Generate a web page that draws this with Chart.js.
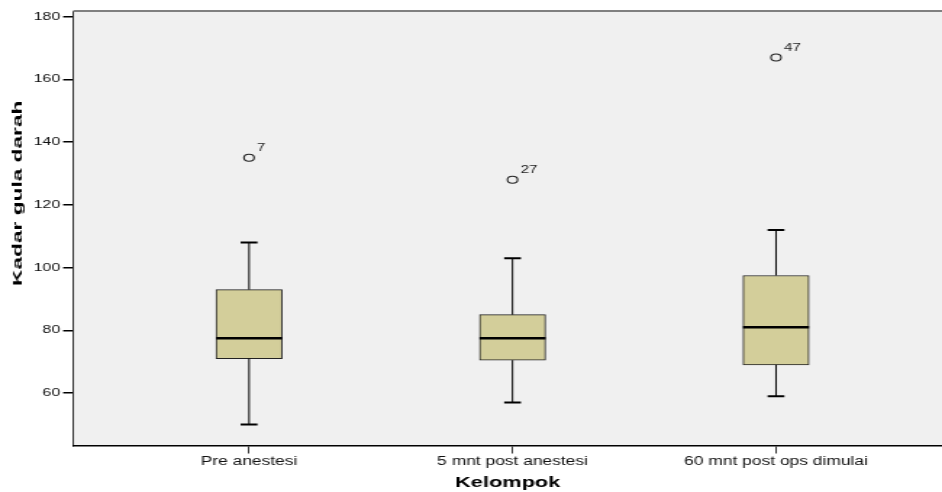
<!DOCTYPE html>
<html>
<head>
<meta charset="utf-8">
<script src="https://cdn.jsdelivr.net/npm/chart.js@4.4.1/dist/chart.umd.min.js"></script>
<style>
  html, body { margin: 0; padding: 0; background: #ffffff; overflow: hidden; }
  #c { display: block; width: 942px !important; height: 492px !important; }
</style>
</head>
<body>
<canvas id="c" width="650" height="492" style="width:942px;height:492px;"></canvas>
<script>
// ---- data ----
const categories    = ['Pre anestesi', '5 mnt post anestesi', '60 mnt post ops dimulai'];
const whiskerMin    = [50, 57, 59];
const q1            = [71, 70.5, 69];
const median        = [77.5, 77.5, 81];
const q3            = [93, 85, 97.5];
const whiskerMax    = [108, 103, 112];
const outlierValues = [135, 128, 167];
const outlierLabels = ['7', '27', '47'];
const yTicks        = [60, 80, 100, 120, 140, 160, 180];
const yTitle = 'Kadar gula darah';
const xTitle = 'Kelompok';

// horizontal stretch of the reference rendering
const S = 942 / 650;
const FONT = '"Liberation Sans", Arial, Helvetica, sans-serif';
Chart.defaults.font.family = FONT;
Chart.defaults.color = '#111';

const boxData = categories.map((c, i) => ({ x: i + 1, y: [q1[i], q3[i]] }));
const outData = categories.map((c, i) => ({ x: i + 1, y: outlierValues[i] }));

const backgroundPlugin = {
  id: 'bg',
  beforeDraw(chart) {
    const { ctx, chartArea: a } = chart;
    ctx.save();
    ctx.fillStyle = '#ffffff';
    ctx.fillRect(0, 0, chart.width, chart.height);
    ctx.fillStyle = '#f0f0f0';
    ctx.fillRect(a.left, a.top, a.right - a.left, a.bottom - a.top);
    ctx.restore();
  },
  afterDraw(chart) {
    const { ctx, chartArea: a } = chart;
    ctx.save();
    ctx.strokeStyle = '#808080';
    ctx.lineWidth = 2;
    ctx.beginPath();
    ctx.moveTo(a.left, a.top);
    ctx.lineTo(a.right, a.top);
    ctx.stroke();
    // rotated y-axis title (stretched along its length like the reference)
    ctx.translate(22 / S, (a.top + a.bottom) / 2 - 35);
    ctx.scale(1 / S, 1);
    ctx.rotate(-Math.PI / 2);
    ctx.scale(1.62, 1);
    ctx.fillStyle = '#000';
    ctx.font = 'bold 14px ' + FONT;
    ctx.textAlign = 'center';
    ctx.textBaseline = 'alphabetic';
    ctx.fillText(yTitle, 0, 0);
    ctx.restore();
  }
};

const boxPartsPlugin = {
  id: 'boxParts',
  afterDatasetsDraw(chart) {
    const { ctx, scales: { x, y } } = chart;
    const bars = chart.getDatasetMeta(0).data;
    const capHalf = 8.4 / S;
    ctx.save();
    ctx.strokeStyle = '#000';
    categories.forEach((c, i) => {
      const cx = x.getPixelForValue(i + 1);
      ctx.lineWidth = 1;
      ctx.beginPath();
      ctx.moveTo(cx, y.getPixelForValue(q3[i]));
      ctx.lineTo(cx, y.getPixelForValue(whiskerMax[i]));
      ctx.moveTo(cx, y.getPixelForValue(q1[i]));
      ctx.lineTo(cx, y.getPixelForValue(whiskerMin[i]));
      ctx.stroke();
      ctx.lineWidth = 2;
      ctx.beginPath();
      [whiskerMax[i], whiskerMin[i]].forEach(v => {
        const py = y.getPixelForValue(v);
        ctx.moveTo(cx - capHalf, py);
        ctx.lineTo(cx + capHalf, py);
      });
      ctx.stroke();
      const bar = bars[i];
      const half = bar.width / 2;
      ctx.lineWidth = 2.5;
      ctx.beginPath();
      const my = y.getPixelForValue(median[i]);
      ctx.moveTo(cx - half, my);
      ctx.lineTo(cx + half, my);
      ctx.stroke();
    });
    ctx.restore();
  },
  afterDraw(chart) {
    const { ctx, scales: { x, y } } = chart;
    ctx.save();
    ctx.fillStyle = '#222';
    ctx.font = '10.5px ' + FONT;
    ctx.textAlign = 'left';
    ctx.textBaseline = 'alphabetic';
    categories.forEach((c, i) => {
      const cx = x.getPixelForValue(i + 1);
      const py = y.getPixelForValue(outlierValues[i]);
      ctx.fillText(outlierLabels[i], cx + 8 / S, py - 6.5);
    });
    ctx.restore();
  }
};

new Chart(document.getElementById('c'), {
  type: 'bar',
  data: {
    datasets: [
      {
        type: 'bar',
        data: boxData,
        backgroundColor: '#d3ce9a',
        borderColor: '#222',
        borderWidth: 1,
        borderSkipped: false,
        barThickness: 66 / S,
        grouped: false,
        order: 2
      },
      {
        type: 'scatter',
        data: outData,
        pointStyle: 'circle',
        pointRadius: 3.5,
        pointHoverRadius: 3.5,
        backgroundColor: 'rgba(0,0,0,0)',
        borderColor: '#222',
        borderWidth: 1.1,
        order: 1
      }
    ]
  },
  options: {
    responsive: false,
    animation: false,
    devicePixelRatio: 1,
    layout: { autoPadding: false, padding: { top: 11, right: 0, left: 0, bottom: 0 } },
    plugins: { legend: { display: false }, tooltip: { enabled: false } },
    scales: {
      x: {
        type: 'linear',
        offset: false,
        min: 0.333,
        max: 3.63,
        afterBuildTicks: s => { s.ticks = categories.map((c, i) => ({ value: i + 1 })); },
        afterFit: s => { s.height = 46.5; s.paddingLeft = 0; s.paddingRight = 0; },
        ticks: {
          autoSkip: false,
          maxRotation: 0,
          padding: 1,
          color: '#111',
          font: { size: 12 },
          callback: v => categories[Math.round(v) - 1]
        },
        grid: { display: true, offset: false, drawOnChartArea: false, drawTicks: true, tickLength: 8, color: '#000', lineWidth: 0.8 },
        border: { display: true, color: '#000', width: 1.5 },
        title: { display: true, text: xTitle, color: '#000', font: { size: 15, weight: 'bold' }, padding: { top: 5, bottom: 0 } }
      },
      y: {
        type: 'linear',
        min: 43.3,
        max: 181.8,
        afterBuildTicks: s => { s.ticks = yTicks.map(v => ({ value: v })); },
        afterFit: s => { s.width = 73.3 / S; },
        ticks: { padding: 2, color: '#111', font: { size: 11 } },
        grid: { display: true, drawOnChartArea: false, drawTicks: true, tickLength: 7, color: '#000', lineWidth: 1.5 },
        border: { display: true, color: '#000', width: 0.8 }
      }
    }
  },
  plugins: [backgroundPlugin, boxPartsPlugin]
});
</script>
</body>
</html>
